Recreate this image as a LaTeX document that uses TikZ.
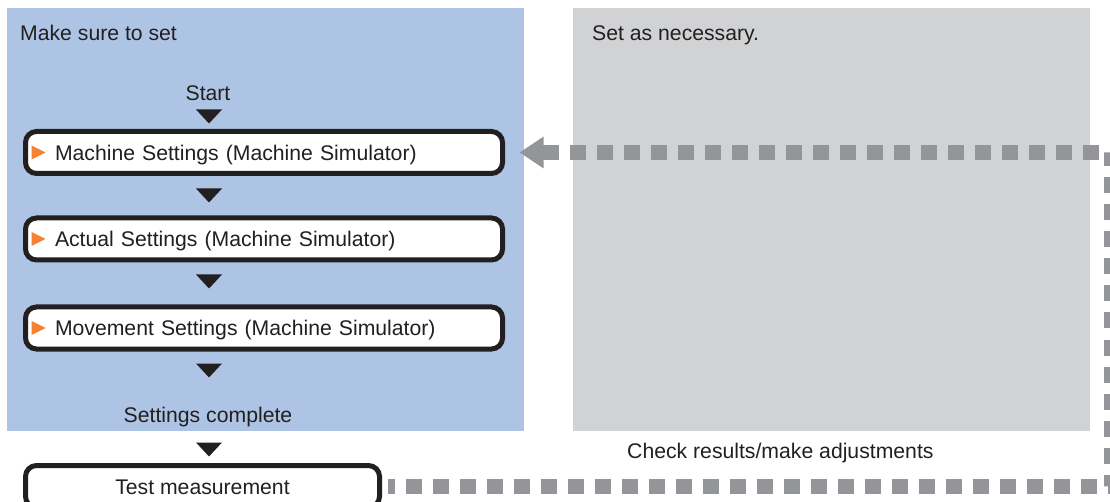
\documentclass[tikz,border=0pt]{standalone}
\usepackage{fontspec}
\setmainfont{Liberation Sans}
\usetikzlibrary{arrows.meta,calc}
\definecolor{ink}{RGB}{35,31,32}
\definecolor{panelblue}{RGB}{174,196,229}
\definecolor{panelgrey}{RGB}{209,210,212}
\definecolor{dashgrey}{RGB}{147,149,152}
\definecolor{bulletorange}{RGB}{245,130,50}
\begin{document}
\begin{tikzpicture}[x=1pt,y=-1pt,
  font=\fontsize{21.2pt}{25pt}\selectfont, text=ink,
  stepbox/.style={draw=ink, line width=5pt, rounded corners=11pt, fill=white,
    minimum height=42pt, inner ysep=0pt, text height=15.2pt, text depth=0pt},
  listbox/.style={stepbox, inner xsep=29.5pt, text width=418pt, align=left},
  lbl/.style={inner sep=0pt, anchor=base},
  fb/.style={draw=dashgrey, line width=15pt, dash pattern=on 16pt off 11pt,
    -{Triangle[width=30pt,length=24pt]}},
  downtri/.pic={\fill[ink] (-13,-7) -- (13,-7) -- (0,7) -- cycle;}]
\useasboundingbox (0,0) rectangle (1110,502);
\clip (0,0) rectangle (1110,502);
% panels
\fill[panelblue] (7,8) rectangle (524,431);
\fill[panelgrey] (573,8) rectangle (1090,431);
% labels
\node[lbl, anchor=base west] (mst) at (20,41) {Make sure to set};
\node[lbl, anchor=base west] (san) at (592,41) {Set as necessary.};
\node[lbl] (start) at (208,101) {Start};
\node[lbl] (done) at (208,422.5) {Settings complete};
\node[lbl, anchor=base west] (chk) at (627,458) {Check results/make adjustments};
% boxes
\node[listbox] (m1) at (264,152.5) {Machine Settings (Machine Simulator)};
\node[listbox] (m2) at (264,239) {Actual Settings (Machine Simulator)};
\node[listbox] (m3) at (264,328) {Movement Settings (Machine Simulator)};
\node[stepbox, minimum width=354pt, inner xsep=0pt] (test) at (202.5,486.5) {Test measurement};
% bullets
\foreach \b in {m1,m2,m3}
  \fill[bulletorange] ($(\b.west)+(8.5,-7)$) -- ++(0,14) -- ++(14,-7) -- cycle;
% flow triangles
\pic at (209,116.5) {downtri};
\pic at (209,195.5) {downtri};
\pic at (209,281.5) {downtri};
\pic at (209,370.5) {downtri};
\pic at (209,449.5) {downtri};
% feedback connector
\coordinate (rx) at (1111.5,0);
\draw[fb, dash phase=9pt] ([xshift=5.5pt]test.east) -| (rx |- m1.east) -- ([xshift=14.5pt]m1.east);
\end{tikzpicture}
\end{document}
